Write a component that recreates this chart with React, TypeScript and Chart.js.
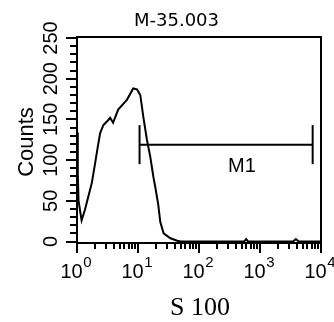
import React, { useEffect, useRef } from "react";
import { Chart, registerables } from "chart.js";

Chart.register(...registerables);

// Histogram (x = S 100 fluorescence, log scale; y = counts)
const histX = [
  1.0, 1.03, 1.06, 1.19, 1.35, 1.53, 1.75, 1.98, 2.11, 2.39, 2.71, 3.24, 3.49,
  3.91, 4.73, 6.58, 8.35, 9.61, 10.9, 12.3, 14.0, 15.9, 18.0, 19.2, 21.5, 23.2,
  26.3, 34, 44, 50, 100, 200, 400, 550, 594, 640, 1000, 2000, 3500, 3875, 4300,
  7000, 10000,
];
const histY = [
  134, 84, 50, 26, 39, 55, 72, 96, 109, 133, 143, 149, 152, 146, 162, 174, 188,
  187, 180, 152, 125, 104, 78, 67, 45, 24, 10, 4, 1, 0, 0, 0, 0, 0, 3, 0, 0, 0,
  0, 3, 0, 0, 0,
];

// M1 marker
const markerX = [10.6, 7300];
const markerY = [119, 119];
const markerLabel = "M1";
const markerLabelX = 507;
const markerLabelY = 92;

// Axis ticks / labels
const yTickLabels = [0, 50, 100, 150, 200, 250];
const yMinorTicks = [
  0, 10, 20, 30, 40, 50, 60, 70, 80, 90, 100, 110, 120, 130, 140, 150, 160, 170,
  180, 190, 200, 210, 220, 230, 240, 250,
];
const xDecades = [0, 1, 2, 3, 4];
const xMinorMultipliers = [2, 3, 4, 5, 6, 7, 8, 9];

const titleText = "M-35.003";
const xTitleText = "S 100";
const yTitleText = "Counts";

const SANS = "'Liberation Sans', Arial, sans-serif";

const flowAxesPlugin = {
  id: "flowAxes",
  afterDraw(chart: any) {
    const { ctx, chartArea: a, scales } = chart;
    const xs = scales.x;
    const ys = scales.y;
    ctx.save();
    ctx.strokeStyle = "#000";
    ctx.fillStyle = "#000";
    ctx.lineWidth = 2;
    ctx.lineCap = "butt";

    // frame
    ctx.strokeRect(a.left, a.top, a.right - a.left, a.bottom - a.top);

    // y ticks
    yMinorTicks.forEach((v) => {
      const py = Math.round(ys.getPixelForValue(v));
      const len = v % 50 === 0 ? 11 : 7;
      ctx.beginPath();
      ctx.moveTo(a.left - len, py);
      ctx.lineTo(a.left, py);
      ctx.stroke();
    });

    // x ticks
    xDecades.forEach((d) => {
      const px = Math.round(xs.getPixelForValue(Math.pow(10, d)));
      ctx.beginPath();
      ctx.moveTo(px, a.bottom);
      ctx.lineTo(px, a.bottom + 10);
      ctx.stroke();
      if (d < 4) {
        xMinorMultipliers.forEach((m) => {
          const mx = Math.round(xs.getPixelForValue(m * Math.pow(10, d)));
          ctx.beginPath();
          ctx.moveTo(mx, a.bottom);
          ctx.lineTo(mx, a.bottom + 6);
          ctx.stroke();
        });
      }
    });

    // x tick labels 10^d
    xDecades.forEach((d) => {
      const px = xs.getPixelForValue(Math.pow(10, d));
      ctx.font = `20px ${SANS}`;
      ctx.textAlign = "left";
      ctx.textBaseline = "alphabetic";
      const baseW = ctx.measureText("10").width;
      const x0 = px - 16.5;
      ctx.fillText("10", x0, a.bottom + 35);
      ctx.font = `15px ${SANS}`;
      ctx.fillText(String(d), x0 + baseW + 0.5, a.bottom + 23.5);
    });

    // y tick labels (rotated)
    ctx.font = `20px ${SANS}`;
    ctx.textAlign = "center";
    ctx.textBaseline = "alphabetic";
    yTickLabels.forEach((v) => {
      const py = ys.getPixelForValue(v);
      ctx.save();
      ctx.translate(a.left - 20.5, py);
      ctx.rotate(-Math.PI / 2);
      ctx.fillText(String(v), 0, 0);
      ctx.restore();
    });

    // y title
    ctx.save();
    ctx.font = `22px ${SANS}`;
    ctx.translate(a.left - 44, (a.top + a.bottom) / 2 + 2);
    ctx.rotate(-Math.PI / 2);
    ctx.fillText(yTitleText, 0, 0);
    ctx.restore();

    // marker label
    ctx.font = `20px ${SANS}`;
    ctx.textAlign = "center";
    ctx.textBaseline = "middle";
    ctx.fillText(
      markerLabel,
      xs.getPixelForValue(markerLabelX),
      ys.getPixelForValue(markerLabelY)
    );

    // title
    ctx.font = "18px 'DejaVu Sans', sans-serif";
    ctx.textAlign = "center";
    ctx.textBaseline = "alphabetic";
    ctx.fillText(titleText, a.left + 99.5, a.top - 11.5);

    // x title
    ctx.font = "26px 'Liberation Serif', 'Times New Roman', serif";
    ctx.fillText(xTitleText, (a.left + a.right) / 2 + 1, a.bottom + 72);

    ctx.restore();
  },
};

export default function App() {
  const canvasRef = useRef<HTMLCanvasElement | null>(null);

  useEffect(() => {
    const canvas = canvasRef.current;
    if (!canvas) return;
    const chart = new Chart(canvas, {
      type: "line",
      data: {
        datasets: [
          {
            label: "hist",
            data: histX.map((x, i) => ({ x, y: histY[i] })),
            borderColor: "#000",
            borderWidth: 2,
            pointRadius: 0,
            tension: 0,
            fill: false,
          },
          {
            label: "M1",
            data: markerX.map((x, i) => ({ x, y: markerY[i] })),
            borderColor: "#000",
            borderWidth: 2,
            pointStyle: "line",
            pointRadius: 19.5,
            pointRotation: 90,
            pointBorderWidth: 2,
            pointBorderColor: "#000",
            pointHoverRadius: 19.5,
            tension: 0,
            fill: false,
          },
        ],
      },
      options: {
        animation: false,
        responsive: false,
        devicePixelRatio: 1,
        layout: {
          autoPadding: false,
          padding: { left: 77, top: 37, right: 13, bottom: 79 },
        },
        plugins: {
          legend: { display: false },
          tooltip: { enabled: false },
          title: { display: false },
        },
        events: [],
        scales: {
          x: {
            type: "logarithmic",
            min: 1,
            max: 10000,
            display: false,
          },
          y: {
            type: "linear",
            min: -1.8,
            max: 251.2,
            display: false,
          },
        },
      },
      plugins: [flowAxesPlugin],
    });
    return () => chart.destroy();
  }, []);

  return (
    <div
      style={{
        position: "fixed",
        left: 0,
        top: 0,
        width: 334,
        height: 322,
        background: "#fff",
      }}
    >
      <canvas
        ref={canvasRef}
        width={334}
        height={322}
        style={{ width: 334, height: 322, display: "block" }}
      />
    </div>
  );
}
